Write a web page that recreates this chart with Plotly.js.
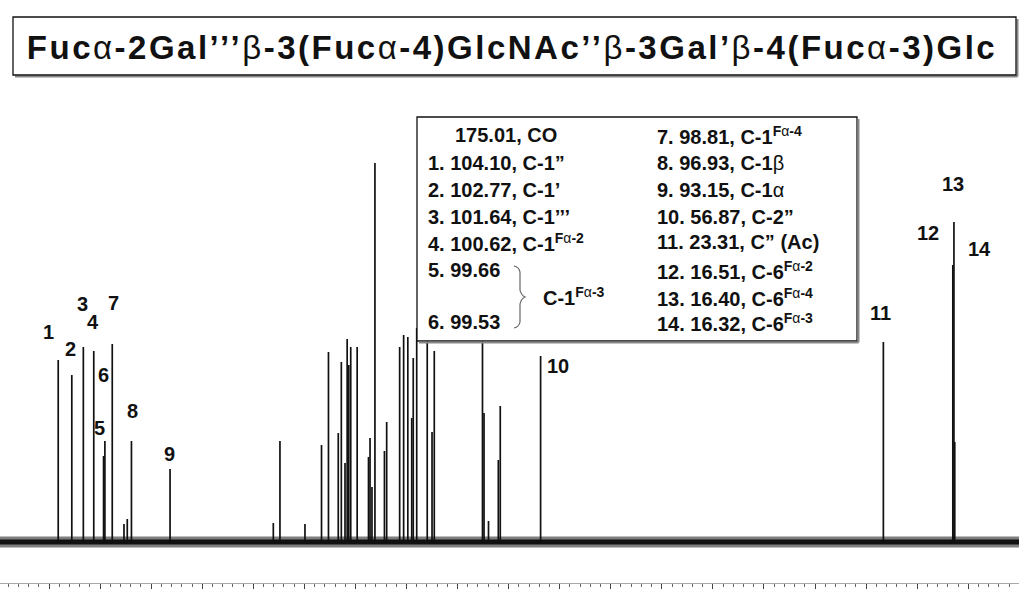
<!DOCTYPE html>
<html>
<head>
<meta charset="utf-8">
<script src="https://cdn.plot.ly/plotly-3.0.1.min.js"></script>
<style>html,body{margin:0;padding:0;background:#fff;}#chart{width:1024px;height:611px;}</style>
</head>
<body>
<div id="chart"></div>
<script>
// ---------------- DATA ----------------
const titleText = "Fucα-2Gal’’’β-3(Fucα-4)GlcNAc’’β-3Gal’β-4(Fucα-3)Glc";

// carbonyl (outside the plotted window)
const coShift = 175.01;
const coName = "CO";

// numbered (assigned) signals, ppm
const labeledNumbers = ["1","2","3","4","5","6","7","8","9","10","11","12","13","14"];
const labeledShift = [104.10, 102.77, 101.64, 100.62, 99.66, 99.53, 98.81, 96.93, 93.15, 56.87, 23.31, 16.51, 16.40, 16.32];
const labeledHeight = [182, 167, 195, 191, 86, 101, 198, 101, 73, 186, 200, 277, 320, 100];
const labeledAssign = ["C-1”", "C-1’", "C-1’’’", "C-1|Fα-2", "", "", "C-1|Fα-4", "C-1β", "C-1α", "C-2”", "C” (Ac)", "C-6|Fα-2", "C-6|Fα-4", "C-6|Fα-3"];
const sharedAssign56 = "C-1|Fα-3";

// other (unlabelled ring) signals, ppm
const otherShift = [97.66, 97.34, 83.04, 82.39, 79.94, 78.32, 77.64, 76.68, 76.38, 76.02, 75.81, 75.65, 75.46, 74.83,
  73.72, 73.57, 73.38, 73.09, 72.16, 71.94, 70.67, 70.28, 69.87, 69.49, 69.34, 69.00, 67.97, 67.50, 67.28,
  62.56, 62.41, 61.97, 61.01, 60.82];
const otherHeight = [18, 23, 19, 101, 18, 97, 190, 109, 180, 79, 203, 177, 195, 195,
  85, 104, 55, 379, 91, 120, 195, 207, 205, 124, 184, 214, 280, 110, 191,
  270, 129, 21, 82, 136];

// ---------------- LAYOUT HELPERS ----------------
const M = {l: 0, r: 5, t: 90, b: 28};
const PW = 1024 - M.l - M.r, PH = 611 - M.t - M.b;
const fx = px => (px - M.l) / PW;
const fy = py => (M.t + PH - py) / PH;
const xRange = [109.8, 10.03];

// label anchor points (ppm, intensity)
const labelPos = [[105.10,210],[102.85,193],[101.77,238],[100.69,220],[100.01,114],[99.62,167],[98.64,239],
  [96.78,131],[93.16,88],[55.17,176],[23.55,229],[18.94,309],[16.50,358],[13.85,293]];

// format "C-1|Fα-2" -> bold with superscript, greek regular
function fmt(s) {
  const parts = s.split("|");
  const boldGreek = t => t.split(/([αβ])/).filter(seg => seg.length).map(seg => (seg === "α" || seg === "β") ? seg : "<b>" + seg + "</b>").join("");
  let out = boldGreek(parts[0]);
  if (parts[1]) out += "<sup>" + boldGreek(parts[1]) + "</sup>";
  return out;
}

// ---------------- TRACES ----------------
const allShift = labeledShift.concat(otherShift);
const allHeight = labeledHeight.concat(otherHeight);
const sx = [], sy = [];
allShift.forEach((p, i) => { sx.push(p, p, null); sy.push(0, allHeight[i], null); });

const traces = [
  {x: [xRange[0], xRange[1]], y: [0, 0], mode: "lines", line: {color: "rgba(20,20,20,0.55)", width: 11}, hoverinfo: "skip"},
  {x: [xRange[0], xRange[1]], y: [0, 0], mode: "lines", line: {color: "#111", width: 5}, hoverinfo: "skip"},
  {x: sx, y: sy, mode: "lines", line: {color: "#111", width: 1.7}, hoverinfo: "skip"}
];

// ---------------- ANNOTATIONS ----------------
const FONT = "Liberation Sans, Arial, sans-serif";
const ann = [];
labeledNumbers.forEach((n, i) => {
  ann.push({x: labelPos[i][0], y: labelPos[i][1], xref: "x", yref: "y", text: "<b>" + n + "</b>",
    showarrow: false, font: {family: FONT, size: 20, color: "#111"}, xanchor: "center", yanchor: "middle"});
});

const rowY = [135, 163, 190, 217, 242, 270, 297, 322];
function row(px, py, txt) {
  ann.push({x: fx(px), y: fy(py), xref: "paper", yref: "paper", text: txt, showarrow: false,
    xanchor: "left", yanchor: "middle", font: {family: FONT, size: 20, color: "#111"}});
}
row(453, rowY[0], fmt(coShift.toFixed(2) + ", " + coName));
// left column: peaks 1-4, 5, 6
for (let i = 0; i < 4; i++) row(426, rowY[i + 1], fmt(labeledNumbers[i] + ". " + labeledShift[i].toFixed(2) + ", " + labeledAssign[i]));
row(426, rowY[5], fmt(labeledNumbers[4] + ". " + labeledShift[4].toFixed(2)));
row(426, rowY[7], fmt(labeledNumbers[5] + ". " + labeledShift[5].toFixed(2)));
row(541, 296, fmt(sharedAssign56));
// right column: peaks 7-14
for (let i = 6; i < 14; i++) row(655, rowY[i - 6], fmt(labeledNumbers[i] + ". " + labeledShift[i].toFixed(2) + ", " + labeledAssign[i]));

// ---------------- SHAPES ----------------
function rectP(x0, y0, x1, y1, extra) {
  return Object.assign({type: "rect", xref: "paper", yref: "paper", x0: fx(x0), x1: fx(x1), y0: fy(y1), y1: fy(y0),
    layer: "above"}, extra);
}
function lineP(x0, y0, x1, y1, color, w) {
  return {type: "line", xref: "paper", yref: "paper", x0: fx(x0), y0: fy(y0), x1: fx(x1), y1: fy(y1),
    line: {color: color, width: w}, layer: "above"};
}
// curly brace path in pixel space
function braceP() {
  const pts = [[514,266],[519,267],[520,272],[520,290],[521,295],[525,297],[521,299],[520,304],[520,322],[519,327],[514,328]];
  const P = i => fx(pts[i][0]) + "," + fy(pts[i][1]);
  const d = "M" + P(0) + " Q" + P(1) + " " + P(2) + " L" + P(3) + " Q" + P(4) + " " + P(5) +
    " Q" + P(6) + " " + P(7) + " L" + P(8) + " Q" + P(9) + " " + P(10);
  return {type: "path", xref: "paper", yref: "paper", path: d, line: {color: "#666", width: 1.2}, layer: "above"};
}

const shapes = [
  // title box
  lineP(15, 76.5, 1017.5, 76.5, "#888", 2),
  lineP(1017.5, 19, 1017.5, 76.5, "#888", 2),
  rectP(13, 17, 1016, 75, {line: {color: "#111", width: 1.3}, fillcolor: "rgba(255,255,255,0)"}),
  // table box
  rectP(417, 117, 857, 341, {line: {color: "#111", width: 1.3}, fillcolor: "#fff"}),
  lineP(419, 342.5, 858.5, 342.5, "#888", 2),
  lineP(858.5, 119, 858.5, 342.5, "#888", 2),
  braceP()
];

// ---------------- LAYOUT ----------------
const layout = {
  width: 1024, height: 611,
  margin: M,
  paper_bgcolor: "#fff", plot_bgcolor: "#fff",
  showlegend: false,
  title: {
    text: "<span style='letter-spacing:2.5px'>" + fmt(titleText) + "</span>",
    font: {family: FONT, size: 33, color: "#111"},
    x: 0.5, xref: "container", xanchor: "center",
    y: 1 - 47 / 611, yref: "container", yanchor: "middle"
  },
  xaxis: {
    range: xRange, showgrid: false, zeroline: false, showticklabels: false,
    showline: true, linecolor: "#aaa", linewidth: 1,
    ticks: "outside", ticklen: 5, tickwidth: 1, tickcolor: "#444",
    tickmode: "linear", tick0: 0, dtick: 5,
    minor: {ticks: "outside", ticklen: 3, tickwidth: 1, tickcolor: "#666", tickmode: "linear", tick0: 0, dtick: 1, showgrid: false}
  },
  yaxis: {range: [-41, 452], visible: false, showgrid: false, zeroline: false},
  shapes: shapes,
  annotations: ann
};

Plotly.newPlot("chart", traces, layout, {staticPlot: true, displayModeBar: false});
</script>
</body>
</html>
